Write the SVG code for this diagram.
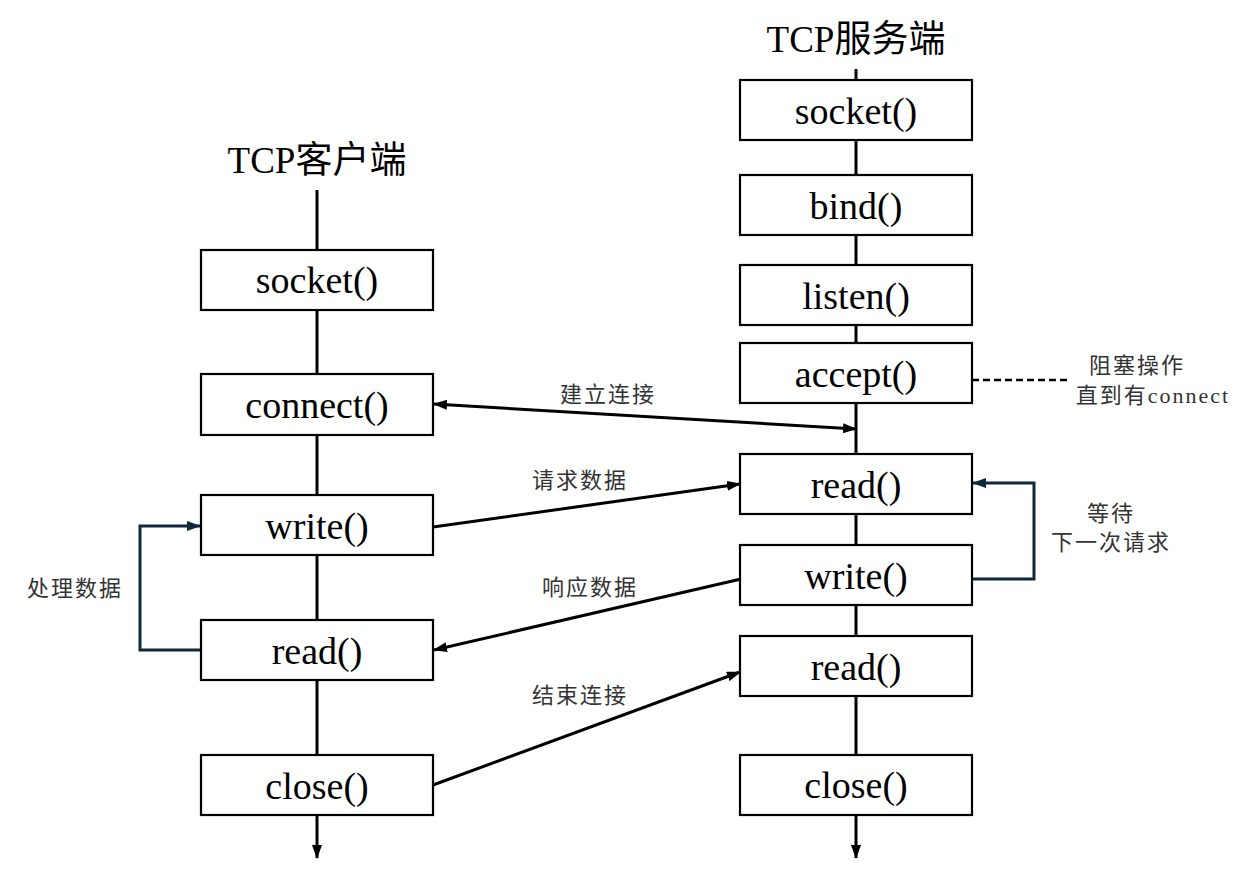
<svg xmlns="http://www.w3.org/2000/svg" width="1250" height="871" viewBox="0 0 1250 871">
  <style>
    .box { fill: #ffffff; stroke: #000000; stroke-width: 2.2; }
    .fn { font-family: "Liberation Serif", "Noto Sans CJK SC", serif; font-size: 38px; fill: #000000; text-anchor: middle; }
    .title { font-family: "Liberation Serif", "Noto Sans CJK SC", serif; font-size: 37px; fill: #000000; text-anchor: middle; }
    .lbl { font-family: "Liberation Serif", "Noto Sans CJK SC", sans-serif; font-size: 22px; fill: #333333; text-anchor: middle; letter-spacing: 2px; }
    .life { stroke: #000000; stroke-width: 3; fill: none; }
    .msg { stroke: #000000; stroke-width: 3; fill: none; }
    .loop { stroke: #0d2a3c; stroke-width: 3; fill: none; }
    .dash { stroke: #000000; stroke-width: 2.5; stroke-dasharray: 7 4; fill: none; }
  </style>
  <defs>
    <marker id="arrow" viewBox="0 0 14 10" refX="13" refY="5" markerWidth="14" markerHeight="10" markerUnits="userSpaceOnUse" orient="auto-start-reverse">
      <path d="M0,0 L14,5 L0,10 Z" fill="#000000"/>
    </marker>
    <marker id="arrowNavy" viewBox="0 0 14 10" refX="13" refY="5" markerWidth="14" markerHeight="10" markerUnits="userSpaceOnUse" orient="auto">
      <path d="M0,0 L14,5 L0,10 Z" fill="#0d2a3c"/>
    </marker>
  </defs>
  <rect width="1250" height="871" fill="#ffffff"/>

  <!-- lifelines and connectors -->
  <g id="connectors">
    <!-- client lifeline -->
    <line class="life" x1="317" y1="190" x2="317" y2="250"/>
    <line class="life" x1="317" y1="310" x2="317" y2="374"/>
    <line class="life" x1="317" y1="435" x2="317" y2="495"/>
    <line class="life" x1="317" y1="555" x2="317" y2="620"/>
    <line class="life" x1="317" y1="680" x2="317" y2="755"/>
    <line class="life" x1="317" y1="815" x2="317" y2="858" marker-end="url(#arrow)"/>
    <!-- server lifeline -->
    <line class="life" x1="856" y1="69" x2="856" y2="80"/>
    <line class="life" x1="856" y1="140" x2="856" y2="175"/>
    <line class="life" x1="856" y1="235" x2="856" y2="265"/>
    <line class="life" x1="856" y1="325" x2="856" y2="343"/>
    <line class="life" x1="856" y1="403" x2="856" y2="454"/>
    <line class="life" x1="856" y1="514" x2="856" y2="545"/>
    <line class="life" x1="856" y1="605" x2="856" y2="636"/>
    <line class="life" x1="856" y1="696" x2="856" y2="755"/>
    <line class="life" x1="856" y1="815" x2="856" y2="858" marker-end="url(#arrow)"/>

    <!-- messages -->
    <line class="msg" x1="434" y1="404" x2="856" y2="429" marker-start="url(#arrow)" marker-end="url(#arrow)"/>
    <line class="msg" x1="433" y1="527" x2="740" y2="484" marker-end="url(#arrow)"/>
    <line class="msg" x1="741" y1="579" x2="434" y2="650" marker-end="url(#arrow)"/>
    <line class="msg" x1="433" y1="785" x2="740" y2="672" marker-end="url(#arrow)"/>

    <!-- processing loops -->
    <polyline class="loop" points="201,650 140,650 140,526 200,526" marker-end="url(#arrowNavy)"/>
    <polyline class="loop" points="972,579 1034,579 1034,483 973,483" marker-end="url(#arrowNavy)"/>

    <!-- blocking note -->
    <line class="dash" x1="972" y1="380" x2="1067" y2="380"/>
  </g>

  <!-- titles -->
  <text class="title" x="317" y="173">TCP客户端</text>
  <text class="title" x="856" y="52">TCP服务端</text>

  <!-- client nodes -->
  <g id="c-socket"><rect class="box" x="201" y="250" width="232" height="60"/><text class="fn" x="317" y="293">socket()</text></g>
  <g id="c-connect"><rect class="box" x="201" y="374" width="232" height="61"/><text class="fn" x="317" y="418">connect()</text></g>
  <g id="c-write"><rect class="box" x="201" y="495" width="232" height="60"/><text class="fn" x="317" y="539">write()</text></g>
  <g id="c-read"><rect class="box" x="201" y="620" width="232" height="60"/><text class="fn" x="317" y="664">read()</text></g>
  <g id="c-close"><rect class="box" x="201" y="755" width="232" height="60"/><text class="fn" x="317" y="799">close()</text></g>

  <!-- server nodes -->
  <g id="s-socket"><rect class="box" x="740" y="80" width="232" height="60"/><text class="fn" x="856" y="124">socket()</text></g>
  <g id="s-bind"><rect class="box" x="740" y="175" width="232" height="60"/><text class="fn" x="856" y="219">bind()</text></g>
  <g id="s-listen"><rect class="box" x="740" y="265" width="232" height="60"/><text class="fn" x="856" y="309">listen()</text></g>
  <g id="s-accept"><rect class="box" x="740" y="343" width="232" height="60"/><text class="fn" x="856" y="387">accept()</text></g>
  <g id="s-read1"><rect class="box" x="740" y="454" width="232" height="60"/><text class="fn" x="856" y="498">read()</text></g>
  <g id="s-write"><rect class="box" x="740" y="545" width="232" height="60"/><text class="fn" x="856" y="589">write()</text></g>
  <g id="s-read2"><rect class="box" x="740" y="636" width="232" height="60"/><text class="fn" x="856" y="680">read()</text></g>
  <g id="s-close"><rect class="box" x="740" y="755" width="232" height="60"/><text class="fn" x="856" y="798">close()</text></g>

  <!-- connector labels -->
  <g id="labels">
    <text class="lbl" x="608" y="402">建立连接</text>
    <text class="lbl" x="580" y="488">请求数据</text>
    <text class="lbl" x="590" y="595">响应数据</text>
    <text class="lbl" x="580" y="703">结束连接</text>
    <text class="lbl" x="75" y="596">处理数据</text>
    <text class="lbl" x="1111" y="521">等待</text>
    <text class="lbl" x="1111" y="550">下一次请求</text>
    <text class="lbl" x="1137" y="373">阻塞操作</text>
    <text class="lbl" x="1153" y="403">直到有connect</text>
  </g>
</svg>
